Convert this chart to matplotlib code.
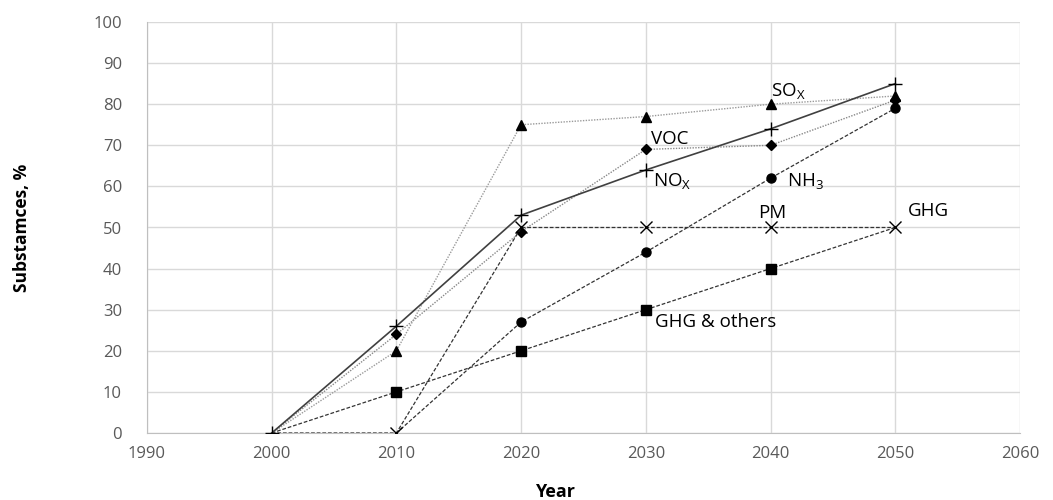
import matplotlib
matplotlib.use("Agg")
import matplotlib.pyplot as plt

years = [2000, 2010, 2020, 2030, 2040, 2050]
nox = [0, 26, 53, 64, 74, 85]
sox = [0, 20, 75, 77, 80, 82]
voc = [0, 24, 49, 69, 70, 81]
nh3_years = [2010, 2020, 2030, 2040, 2050]
nh3 = [0, 27, 44, 62, 79]
pm = [0, 0, 50, 50, 50, 50]
ghg = [0, 10, 20, 30, 40, 50]

labels = [
    ("SO$_\\mathregular{X}$", 2040, 83),
    ("VOC", 2030.4, 71.5),
    ("NO$_\\mathregular{X}$", 2030.6, 61),
    ("NH$_\\mathregular{3}$", 2041.3, 61),
    ("PM", 2039, 53.5),
    ("GHG", 2051, 54),
    ("GHG & others", 2030.7, 27),
]

plt.rcParams['font.family'] = ['Open Sans', 'DejaVu Sans']
fig = plt.figure(figsize=(10.53, 5.0), dpi=100)
ax = fig.add_axes([0.1396, 0.134, 0.829, 0.822])

ax.plot(years, ghg, color='#333333', ls=(0, (3, 1.5)), lw=0.9, marker='s', ms=6.5,
        mfc='black', mec='black', markevery=[1, 2, 3, 4], zorder=3)
ax.plot(nh3_years, nh3, color='#333333', ls=(0, (3, 1.5)), lw=0.9, marker='o', ms=6.5,
        mfc='black', mec='black', markevery=[1, 2, 3, 4], zorder=3)
ax.plot(years, pm, color='#333333', ls=(0, (3, 1.5)), lw=0.9, marker='x', ms=8,
        mec='black', mew=1.0, markevery=[1, 2, 3, 4, 5], zorder=4)
ax.plot(years, voc, color='#888888', ls=(0, (1, 1)), lw=1.0, marker='D', ms=5.5,
        mfc='black', mec='black', markevery=[1, 2, 3, 4, 5], zorder=3)
ax.plot(years, sox, color='#9a9a9a', ls=(0, (1, 1)), lw=1.0, marker='^', ms=7.5,
        mfc='black', mec='black', markevery=[1, 2, 3, 4, 5], zorder=3)
ax.plot(years, nox, color='#404040', ls='-', lw=1.2, marker='+', ms=10,
        mec='black', mew=1.0, zorder=5)

for t, x, y in labels:
    ax.text(x, y, t, fontsize=13.5, color='black', ha='left', va='center', zorder=6)

ax.set_xlim(1990, 2060)
ax.set_ylim(0, 100)
ax.set_xticks(range(1990, 2061, 10))
ax.set_yticks(range(0, 101, 10))
ax.grid(True, color='#d9d9d9', lw=1.0)
ax.set_axisbelow(True)
for s in ['top', 'right']:
    ax.spines[s].set_visible(False)
for s in ['left', 'bottom']:
    ax.spines[s].set_color('#bfbfbf')
ax.tick_params(length=0, colors='#595959', labelsize=12)
ax.tick_params(axis='x', pad=9)
ax.tick_params(axis='y', pad=18)

ax.set_xlabel('Year', fontsize=13, fontweight='bold')
ax.xaxis.set_label_coords(0.467, -0.122)
ax.set_ylabel('Substamces, %', fontsize=12.5, fontweight='bold')
ax.yaxis.set_label_coords(-0.133, 0.5)

fig.savefig('out.png', dpi=100)
